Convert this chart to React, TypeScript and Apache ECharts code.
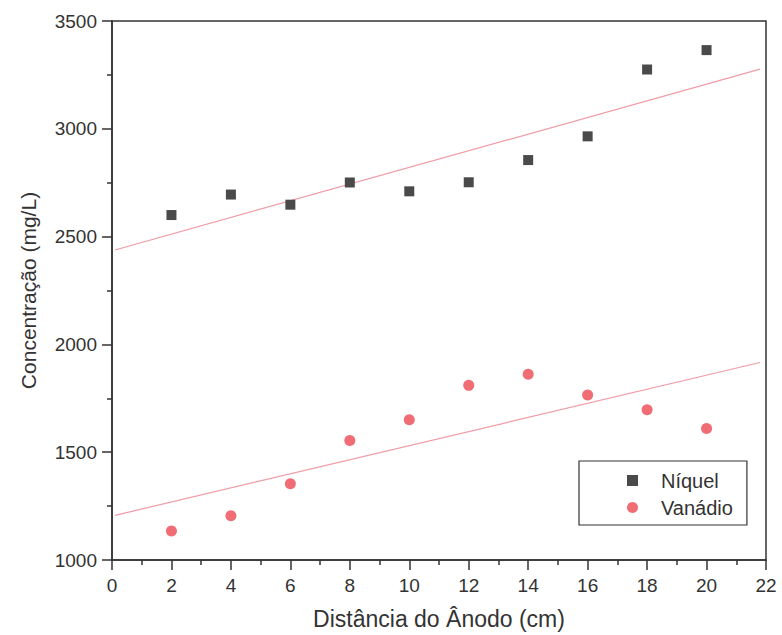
import React, { useEffect, useRef } from "react";
import * as echarts from "echarts";

const distances = [2, 4, 6, 8, 10, 12, 14, 16, 18, 20];
const niquel = [2600, 2695, 2648, 2751, 2710, 2752, 2855, 2965, 3275, 3365];
const vanadio = [1135, 1205, 1354, 1554, 1651, 1810, 1862, 1765, 1697, 1610];
const niquelFitX = [0.1, 21.8];
const niquelFitY = [2438, 3277];
const vanadioFitX = [0.1, 21.8];
const vanadioFitY = [1207, 1916];
const xTicks = { min: 0, max: 22, interval: 2 };
const yTicks = { min: 1000, max: 3500, interval: 500 };

const FONT = "'Liberation Sans', Arial, sans-serif";

export default function App() {
  const ref = useRef<HTMLDivElement>(null);
  useEffect(() => {
    if (!ref.current) return;
    const chart = echarts.init(ref.current, undefined, { renderer: "svg" });
    const pts = (ys: number[]) => distances.map((x, i) => [x, ys[i]]);
    const line = (xs: number[], ys: number[]) => xs.map((x, i) => [x, ys[i]]);
    chart.setOption({
      animation: false,
      backgroundColor: "#ffffff",
      grid: {
        left: 112,
        right: 16,
        top: 21,
        bottom: 75,
        show: true,
        borderColor: "#333",
        borderWidth: 1.5,
        backgroundColor: "transparent",
      },
      legend: {
        data: [
          { name: "Níquel", icon: "rect" },
          { name: "Vanádio", icon: "circle" },
        ],
        orient: "vertical",
        left: 579,
        top: 461,
        width: 177,
        itemWidth: 11,
        itemHeight: 11,
        itemGap: 6,
        padding: [9, 14, 7, 48],
        borderColor: "#333",
        borderWidth: 1.2,
        backgroundColor: "#fff",
        textStyle: {
          fontFamily: FONT,
          fontSize: 20,
          color: "#333",
          lineHeight: 21,
          padding: [0, 0, 0, 18],
        },
      },
      xAxis: {
        type: "value",
        min: xTicks.min,
        max: xTicks.max,
        interval: xTicks.interval,
        name: "Distância do Ânodo (cm)",
        nameLocation: "middle",
        nameGap: 47,
        nameTextStyle: { fontFamily: FONT, fontSize: 23, color: "#333" },
        axisLine: { show: true, lineStyle: { color: "#333", width: 1.5 } },
        axisTick: { show: true, length: 10, lineStyle: { color: "#333", width: 1.5 } },
        minorTick: { show: true, splitNumber: 2, length: 5, lineStyle: { color: "#333", width: 1.5 } },
        splitLine: { show: false },
        axisLabel: { fontFamily: FONT, fontSize: 19, color: "#333", margin: 16 },
      },
      yAxis: {
        type: "value",
        min: yTicks.min,
        max: yTicks.max,
        interval: yTicks.interval,
        name: "Concentração (mg/L)",
        nameLocation: "middle",
        nameGap: 73,
        nameTextStyle: { fontFamily: FONT, fontSize: 21, color: "#333" },
        axisLine: { show: true, lineStyle: { color: "#333", width: 1.5 } },
        axisTick: { show: true, length: 10, lineStyle: { color: "#333", width: 1.5 } },
        minorTick: { show: true, splitNumber: 2, length: 5, lineStyle: { color: "#333", width: 1.5 } },
        splitLine: { show: false },
        axisLabel: {
          fontFamily: FONT,
          fontSize: 19,
          color: "#333",
          margin: 15,
          formatter: (v: number) => String(v),
        },
      },
      series: [
        {
          name: "Níquel fit",
          type: "line",
          data: line(niquelFitX, niquelFitY),
          showSymbol: false,
          symbol: "none",
          lineStyle: { color: "#ef9ca6", width: 1.2 },
          silent: true,
          z: 1,
        },
        {
          name: "Vanádio fit",
          type: "line",
          data: line(vanadioFitX, vanadioFitY),
          showSymbol: false,
          symbol: "none",
          lineStyle: { color: "#ef9ca6", width: 1.2 },
          silent: true,
          z: 1,
        },
        {
          name: "Níquel",
          type: "scatter",
          symbol: "rect",
          symbolSize: 10,
          data: pts(niquel),
          itemStyle: { color: "#4a4a4a", opacity: 1 },
          z: 3,
        },
        {
          name: "Vanádio",
          type: "scatter",
          symbol: "circle",
          symbolSize: 11,
          data: pts(vanadio),
          itemStyle: { color: "#f06d76", opacity: 1 },
          z: 3,
        },
      ],
    });
    return () => chart.dispose();
  }, []);
  return <div ref={ref} style={{ width: 782, height: 635, position: "absolute", left: 0, top: 0 }} />;
}
